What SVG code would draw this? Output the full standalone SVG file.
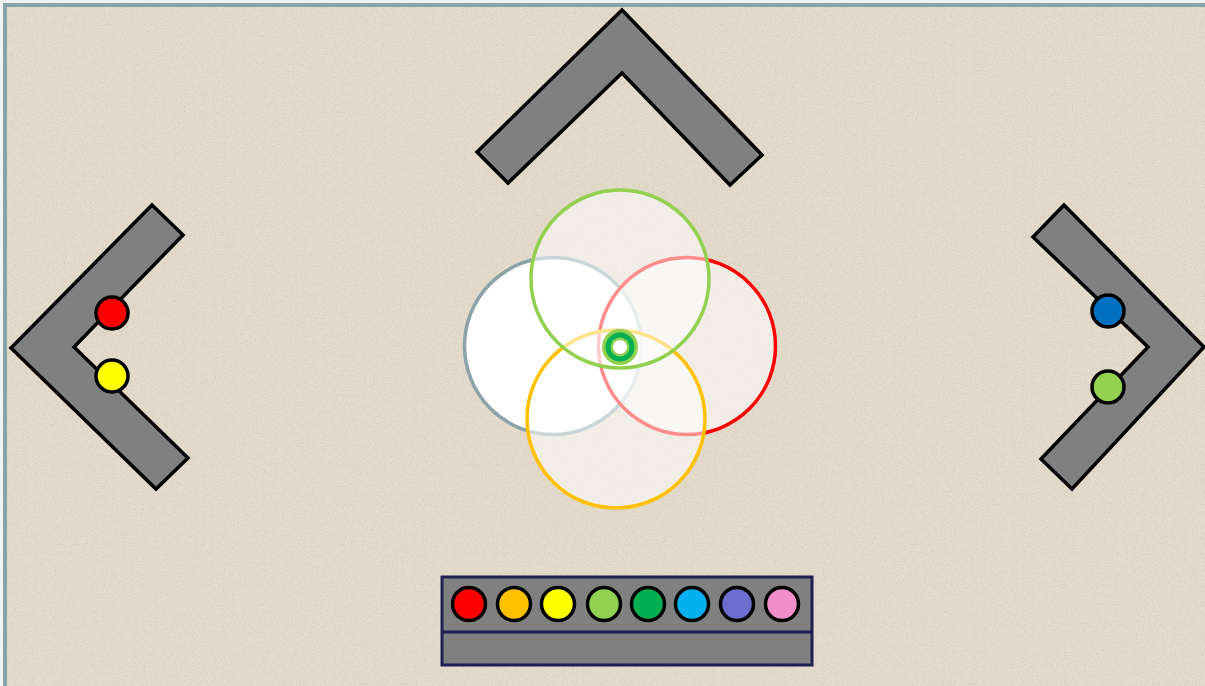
<svg xmlns="http://www.w3.org/2000/svg" width="1205" height="686" viewBox="0 0 1205 686">
<style>
.chev{fill:#808080;stroke:#000;stroke-width:3.5;stroke-linejoin:miter}
.dot{stroke:#000;stroke-width:3.5}
.ring{stroke-width:3.5}
.veil{fill:#ffffff;fill-opacity:0.55}
.tray{fill:#808080;stroke:#1f1f55;stroke-width:3}
</style>
<defs>
<filter id="grain" x="0" y="0" width="100%" height="100%">
<feTurbulence type="fractalNoise" baseFrequency="0.9" numOctaves="2" seed="3" result="n"/>
<feColorMatrix in="n" type="matrix" values="0 0 0 0 0.45  0 0 0 0 0.4  0 0 0 0 0.33  0 0 0 -2.2 1.15" result="c"/>
<feComposite in="c" in2="SourceGraphic" operator="in"/>
</filter>
</defs>
<rect x="0" y="0" width="1205" height="686" fill="#f2f2f2"/>
<rect x="3" y="3" width="1202" height="683" fill="#e4dbcc"/>
<rect x="3" y="3" width="1202" height="683" fill="#e4dbcc" filter="url(#grain)" opacity="0.4"/>
<rect x="3" y="3" width="4" height="683" fill="#84a4a6"/>
<rect x="3" y="3" width="1202" height="4" fill="#84a4a6"/>

<g id="chevron-top">
<polygon class="chev" points="622,10 762,155 730,185 622,73 508,183 477,152"/>
</g>
<g id="chevron-left">
<polygon class="chev" points="152,205 183,235 74,347 188,458 156,489 11,348"/>
<circle class="dot" cx="112" cy="313" r="16" fill="#ff0000"/>
<circle class="dot" cx="112" cy="376" r="16" fill="#ffff00"/>
</g>
<g id="chevron-right">
<polygon class="chev" points="1064,205 1033,237 1148,347 1041,459 1072,489 1204,347"/>
<circle class="dot" cx="1108" cy="311" r="16" fill="#0070c0"/>
<circle class="dot" cx="1108" cy="387" r="16" fill="#92d050"/>
</g>

<g id="circles">
<circle class="ring" cx="553" cy="346" r="88.5" fill="#ffffff" stroke="#8aa2a8"/>
<circle class="ring veil" cx="687" cy="346" r="88.5" stroke="#ff0000"/>
<circle class="ring veil" cx="616" cy="419" r="89" stroke="#ffc000"/>
<circle class="ring veil" cx="620" cy="279" r="89" stroke="#92d050"/>
</g>
<g id="target">
<circle cx="620" cy="347" r="18" fill="#92d050"/>
<circle cx="620" cy="347" r="14.5" fill="#00b050"/>
<circle cx="620" cy="347" r="9.5" fill="#92d050"/>
<circle cx="620" cy="347" r="7" fill="#ffffff"/>
</g>

<g id="palette">
<rect class="tray" x="442" y="577" width="370" height="88"/>
<line x1="442" y1="632" x2="812" y2="632" stroke="#1f1f55" stroke-width="3"/>
<circle class="dot" cx="469" cy="604" r="16.5" fill="#ff0000"/>
<circle class="dot" cx="514" cy="604" r="16.5" fill="#ffc000"/>
<circle class="dot" cx="558" cy="604" r="16.5" fill="#ffff00"/>
<circle class="dot" cx="604" cy="604" r="16.5" fill="#92d050"/>
<circle class="dot" cx="648" cy="604" r="16.5" fill="#00b050"/>
<circle class="dot" cx="692" cy="604" r="16.5" fill="#00b0f0"/>
<circle class="dot" cx="737" cy="604" r="16.5" fill="#6d6dcf"/>
<circle class="dot" cx="782" cy="604" r="16.5" fill="#f08fca"/>
</g>
<g id="connectors"/>
</svg>
